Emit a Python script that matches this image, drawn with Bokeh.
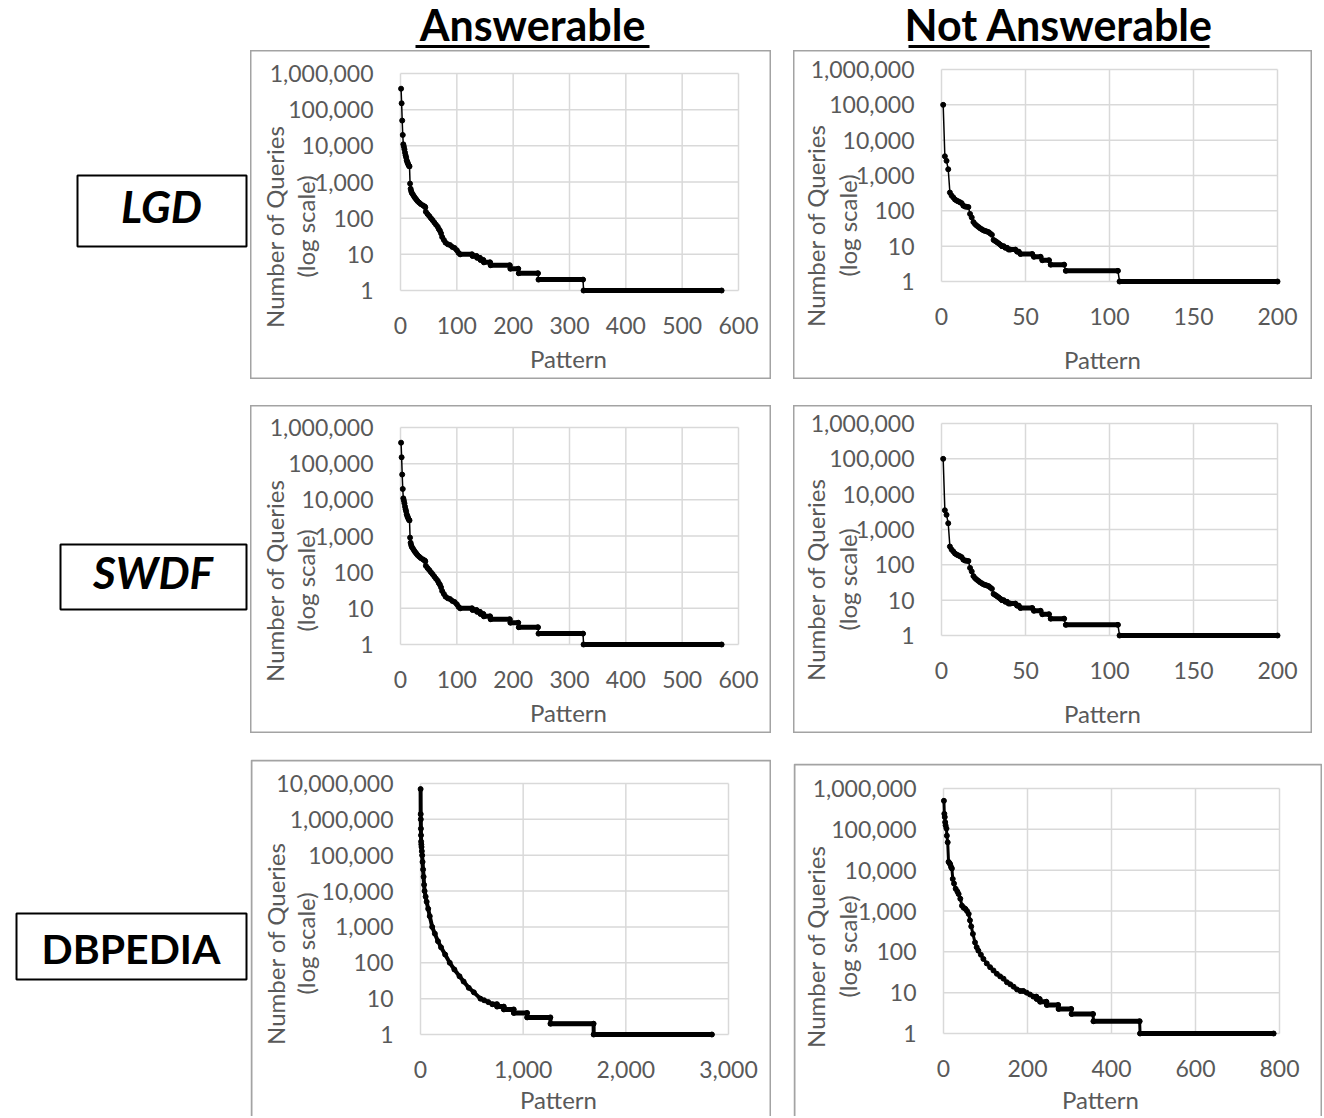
import math
from bokeh.plotting import figure
from bokeh.layouts import column, row
from bokeh.models import (Range1d, FixedTicker, NumeralTickFormatter, Label,
                          BoxAnnotation, Spacer, ColumnDataSource)
from bokeh.embed import file_html
from bokeh.resources import INLINE
from bokeh.core.properties import value, field

# ---------------- data ----------------
COLUMN_TITLES = ["Answerable", "Not Answerable"]
DATASETS = ["LGD", "SWDF", "DBPEDIA"]
DATASET_STYLES = ["bold italic", "bold italic", "bold"]
X_TITLE = "Pattern"
Y_TITLE = ["Number of Queries", "(log scale)"]

LGD_ANS_RANK = [1, 2, 3, 4, 5, 6, 7, 8, 9, 10, 11, 12, 13, 14, 15, 16, 17, 18, 19, 20,
                22, 24, 26, 28, 30, 33, 36, 40, 43, 44, 45, 48, 51, 54, 57, 60, 63, 66,
                68, 70, 72, 74, 77, 80, 84, 88, 92, 96, 100, 103, 106, 127, 128, 135,
                136, 141, 142, 147, 148, 159, 160, 194, 195, 209, 210, 244, 245, 324,
                325, 570]
LGD_ANS_COUNT = [380000, 150000, 50000, 20000, 11000, 9500, 8000, 6500, 5500, 4800,
                 4000, 3600, 3300, 3000, 2800, 2700, 900, 650, 560, 500,
                 450, 400, 360, 330, 300, 270, 245, 225, 210, 200, 150, 130, 115, 100,
                 88, 76, 66, 58, 50, 45, 38, 30, 25, 21, 19, 18, 16, 15, 13, 11, 10,
                 10, 9, 9, 8, 8, 7, 7, 6, 6, 5, 5, 4, 4, 3, 3, 2, 2, 1, 1]

LGD_NA_RANK = [1, 2, 3, 4, 5, 6, 7, 8, 9, 10, 11, 12, 13, 14, 15, 16, 17, 18, 19, 20,
               21, 22, 23, 24, 25, 26, 27, 28, 29, 30, 31, 32, 33, 34, 35, 36, 37, 38,
               39, 40, 41, 44, 45, 46, 47, 54, 55, 59, 60, 64, 65, 73, 74, 105, 106, 200]
LGD_NA_COUNT = [100000, 3500, 2600, 1500, 330, 270, 240, 210, 195, 185, 175, 165, 140,
                132, 130, 128, 82, 65, 48, 42, 38, 35, 32, 30, 28, 27, 26, 25, 23, 21,
                15, 14, 13, 12, 11, 10, 10, 9, 9, 8, 8, 8, 7, 7, 6, 6, 5, 5, 4, 4, 3,
                3, 2, 2, 1, 1]

SWDF_ANS_RANK = [1, 2, 3, 4, 5, 6, 7, 8, 9, 10, 11, 12, 13, 14, 15, 16, 17, 18, 19, 20,
                 22, 24, 26, 28, 30, 33, 36, 40, 43, 44, 45, 48, 51, 54, 57, 60, 63, 66,
                 68, 70, 72, 74, 77, 80, 84, 88, 92, 96, 100, 103, 106, 127, 128, 135,
                 136, 141, 142, 147, 148, 159, 160, 194, 195, 209, 210, 244, 245, 324,
                 325, 570]
SWDF_ANS_COUNT = [380000, 150000, 50000, 20000, 11000, 9500, 8000, 6500, 5500, 4800,
                  4000, 3600, 3300, 3000, 2800, 2700, 900, 650, 560, 500,
                  450, 400, 360, 330, 300, 270, 245, 225, 210, 200, 150, 130, 115, 100,
                  88, 76, 66, 58, 50, 45, 38, 30, 25, 21, 19, 18, 16, 15, 13, 11, 10,
                  10, 9, 9, 8, 8, 7, 7, 6, 6, 5, 5, 4, 4, 3, 3, 2, 2, 1, 1]

SWDF_NA_RANK = [1, 2, 3, 4, 5, 6, 7, 8, 9, 10, 11, 12, 13, 14, 15, 16, 17, 18, 19, 20,
                21, 22, 23, 24, 25, 26, 27, 28, 29, 30, 31, 32, 33, 34, 35, 36, 37, 38,
                39, 40, 41, 44, 45, 46, 47, 54, 55, 59, 60, 64, 65, 73, 74, 105, 106, 200]
SWDF_NA_COUNT = [100000, 3500, 2600, 1500, 330, 270, 240, 210, 195, 185, 175, 165, 140,
                 132, 130, 128, 82, 65, 48, 42, 38, 35, 32, 30, 28, 27, 26, 25, 23, 21,
                 15, 14, 13, 12, 11, 10, 10, 9, 9, 8, 8, 8, 7, 7, 6, 6, 5, 5, 4, 4, 3,
                 3, 2, 2, 1, 1]

DBP_ANS_RANK = [1, 2, 3, 4, 5, 6, 8, 10, 13, 16, 20, 25, 30, 35, 40, 50, 60, 75, 90, 114,
                140, 170, 200, 240, 285, 330, 380, 420, 470, 520, 584, 620, 660, 700,
                745, 746, 811, 812, 908, 909, 1038, 1039, 1265, 1266, 1686, 1687, 2838]
DBP_ANS_COUNT = [7000000, 1400000, 1000000, 550000, 360000, 240000, 200000, 170000,
                 130000, 100000, 65000, 40000, 25000, 15000, 10000, 7000, 5000, 3200,
                 2000, 1000, 650, 400, 270, 170, 100, 65, 42, 30, 20, 15, 10, 9, 8, 7,
                 7, 6, 6, 5, 5, 4, 4, 3, 3, 2, 2, 1, 1]

DBP_NA_RANK = [1, 2, 3, 4, 5, 7, 8, 10, 12, 14, 16, 18, 20, 22, 25, 29, 33, 36, 40, 44,
               48, 52, 56, 60, 63, 66, 70, 75, 79, 83, 89, 95, 103, 111, 119, 127, 135,
               143, 151, 159, 167, 175, 183, 190, 198, 206, 214, 221, 222, 229, 230,
               245, 246, 273, 274, 304, 305, 356, 357, 467, 468, 786]
DBP_NA_COUNT = [500000, 240000, 200000, 150000, 125000, 105000, 70000, 48000, 16000,
                15000, 14000, 12000, 11000, 6100, 4700, 3500, 3000, 2600, 2000, 1350,
                1200, 1130, 1000, 850, 590, 420, 275, 170, 130, 107, 85, 67, 52, 42, 35,
                29, 25, 22, 18, 16, 14, 12, 11, 11, 10, 9, 8, 8, 7, 7, 6, 6, 5, 5, 4, 4,
                3, 3, 2, 2, 1, 1]

X_TICKS_600 = [0, 100, 200, 300, 400, 500, 600]
X_TICKS_200 = [0, 50, 100, 150, 200]
X_TICKS_3000 = [0, 1000, 2000, 3000]
X_TICKS_800 = [0, 200, 400, 600, 800]
Y_TICKS_1E6 = [1, 10, 100, 1000, 10000, 100000, 1000000]
Y_TICKS_1E7 = [1, 10, 100, 1000, 10000, 100000, 1000000, 10000000]

# ---------------- style ----------------
FONT = "Lato"
TXT = "#595959"
GRID = "#d9d9d9"
BOXC = "#a3a3a3"


def make_chart(ranks, counts, x_ticks, y_ticks, W, H, area, yt, xt, lw,
               open_bottom=False):
    """area = (left, top, right, bottom) of the gridline box, canvas px from top-left"""
    assert len(ranks) == len(counts)
    L, T, R, B = area
    pw, ph = R - L, B - T
    x_max = x_ticks[-1]
    lo, hi = math.log10(y_ticks[0]), math.log10(y_ticks[-1])
    sx = x_max / pw
    sy = (hi - lo) / ph
    p = figure(width=W, height=H, output_backend="svg", toolbar_location=None,
               title=None,
               x_range=Range1d(-L * sx, x_max + (W - R) * sx),
               y_range=Range1d(10 ** (lo - (H - B) * sy), 10 ** (hi + T * sy)),
               y_axis_type="log", min_border=0)
    p.grid.visible = False
    p.background_fill_color = "white"
    p.border_fill_color = "white"
    if open_bottom:
        p.outline_line_color = None
        p.add_layout(BoxAnnotation(left=1, right=W - 1, top=1, bottom=H + 20,
                                   left_units="canvas", right_units="canvas",
                                   top_units="canvas", bottom_units="canvas",
                                   fill_color=None, fill_alpha=0,
                                   line_color=BOXC, line_alpha=1.0, line_width=2))
    else:
        p.outline_line_color = BOXC
        p.outline_line_width = 2

    # gridlines (from the tick lists)
    n_x, n_y = len(x_ticks), len(y_ticks)
    p.segment(x0=x_ticks, x1=x_ticks, y0=[y_ticks[0]] * n_x, y1=[y_ticks[-1]] * n_x,
              line_color=GRID, line_width=1.5)
    p.segment(x0=[x_ticks[0]] * n_y, x1=[x_max] * n_y, y0=y_ticks, y1=y_ticks,
              line_color=GRID, line_width=1.5)

    xa, ya = p.xaxis[0], p.yaxis[0]
    xa.fixed_location = y_ticks[0]
    ya.fixed_location = x_ticks[0]
    xa.ticker = FixedTicker(ticks=x_ticks)
    ya.ticker = FixedTicker(ticks=y_ticks)
    xa.formatter = NumeralTickFormatter(format="0,0")
    ya.formatter = NumeralTickFormatter(format="0,0")
    for ax in (xa, ya):
        ax.axis_line_color = None
        ax.major_tick_line_color = None
        ax.minor_tick_line_color = None
        ax.major_tick_out = 0
        ax.major_tick_in = 0
        ax.minor_tick_out = 0
        ax.minor_tick_in = 0
        ax.major_label_text_font = FONT
        ax.major_label_text_font_size = "23px"
        ax.major_label_text_color = TXT
    ya.major_label_standoff = 27
    xa.major_label_standoff = 26

    # series
    src = ColumnDataSource(dict(x=ranks, y=counts))
    p.line("x", "y", source=src, line_color="black", line_width=lw,
           line_join="round")
    p.scatter("x", "y", source=src, size=5, color="black")
    px0, px1, py = [], [], []
    for i in range(len(ranks) - 1):
        if counts[i] == counts[i + 1]:
            px0.append(ranks[i])
            px1.append(ranks[i + 1])
            py.append(counts[i])
    p.segment(x0=px0, x1=px1, y0=py, y1=py, line_color="black", line_width=5,
              line_cap="round")

    # axis titles
    x1, x2, ty = yt
    for txt, xx in zip(Y_TITLE, (x1, x2)):
        p.add_layout(Label(x=xx, y=ty, x_units="canvas", y_units="canvas",
                           text=txt, angle=math.pi / 2, text_align="center",
                           text_baseline="middle", text_font=FONT,
                           text_font_size="24px", text_color=TXT))
    p.add_layout(Label(x=xt[0], y=xt[1], x_units="canvas", y_units="canvas",
                       text=X_TITLE, text_align="center", text_baseline="middle",
                       text_font=FONT, text_font_size="24px", text_color=TXT))
    return p


c11 = make_chart(LGD_ANS_RANK, LGD_ANS_COUNT, X_TICKS_600, Y_TICKS_1E6, 521, 329,
                 (150, 23, 488, 240), (24, 55, 176), (318, 308), 1.5)
c12 = make_chart(LGD_NA_RANK, LGD_NA_COUNT, X_TICKS_200, Y_TICKS_1E6, 519, 329,
                 (148, 19, 484, 231), (22, 54, 175), (309, 309), 1.5)
c21 = make_chart(SWDF_ANS_RANK, SWDF_ANS_COUNT, X_TICKS_600, Y_TICKS_1E6, 521, 328,
                 (150, 22, 488, 239), (24, 55, 175), (318, 307), 1.5)
c22 = make_chart(SWDF_NA_RANK, SWDF_NA_COUNT, X_TICKS_200, Y_TICKS_1E6, 519, 328,
                 (148, 18, 484, 230), (22, 54, 174), (309, 308), 1.5)
c31 = make_chart(DBP_ANS_RANK, DBP_ANS_COUNT, X_TICKS_3000, Y_TICKS_1E7, 521, 357,
                 (170, 24, 478, 275), (25, 55, 184), (308, 340), 4, open_bottom=True)
c32 = make_chart(DBP_NA_RANK, DBP_NA_COUNT, X_TICKS_800, Y_TICKS_1E6, 529, 353,
                 (150, 25, 486, 270), (22, 54, 183), (307, 336), 3, open_bottom=True)

# ---------------- header ----------------
HW, HH = 1322, 50
header = figure(width=HW, height=HH, output_backend="svg", toolbar_location=None,
                title=None, x_range=Range1d(0, HW), y_range=Range1d(HH, 0),
                x_axis_location=None, y_axis_location=None, min_border=0)
header.grid.visible = False
header.outline_line_color = None
header.text(x=[532, 1058.5], y=[24, 24], text=COLUMN_TITLES, text_font=value(FONT),
            text_font_style="bold", text_font_size="43px", text_color="black",
            text_align="center", text_baseline="middle")
header.segment(x0=[415, 908], x1=[649, 1209], y0=[46, 46], y1=[46, 46],
               line_color="black", line_width=3)

# ---------------- row labels ----------------
LW_, LH_ = 250, 1066
labels = figure(width=LW_, height=LH_, output_backend="svg", toolbar_location=None,
                title=None, x_range=Range1d(0, LW_), y_range=Range1d(LH_, 0),
                x_axis_location=None, y_axis_location=None, min_border=0)
labels.grid.visible = False
labels.outline_line_color = None
labels.quad(left=[77, 60, 16], right=[246, 246, 246], top=[125, 494, 863],
            bottom=[196, 559, 929], fill_color="white", line_color="black",
            line_width=2)
lsrc = ColumnDataSource(dict(x=[161, 152.5, 130.5], y=[155, 521.5, 898],
                             t=DATASETS, s=DATASET_STYLES,
                             fs=["44px", "44px", "41px"]))
labels.text(x="x", y="y", text="t", source=lsrc, text_font=value(FONT),
            text_font_style=field("s"), text_font_size=field("fs"),
            text_color="black", text_align="center", text_baseline="middle")

charts = column(
    row(c11, Spacer(width=22, height=329), c12),
    Spacer(width=10, height=26),
    row(c21, Spacer(width=22, height=328), c22),
    Spacer(width=10, height=26),
    row(c31, Spacer(width=22, height=357), column(Spacer(width=10, height=4), c32)),
)
layout = column(header, row(labels, charts))

open("out.html", "w").write(file_html(layout, INLINE, title="Patterns"))
